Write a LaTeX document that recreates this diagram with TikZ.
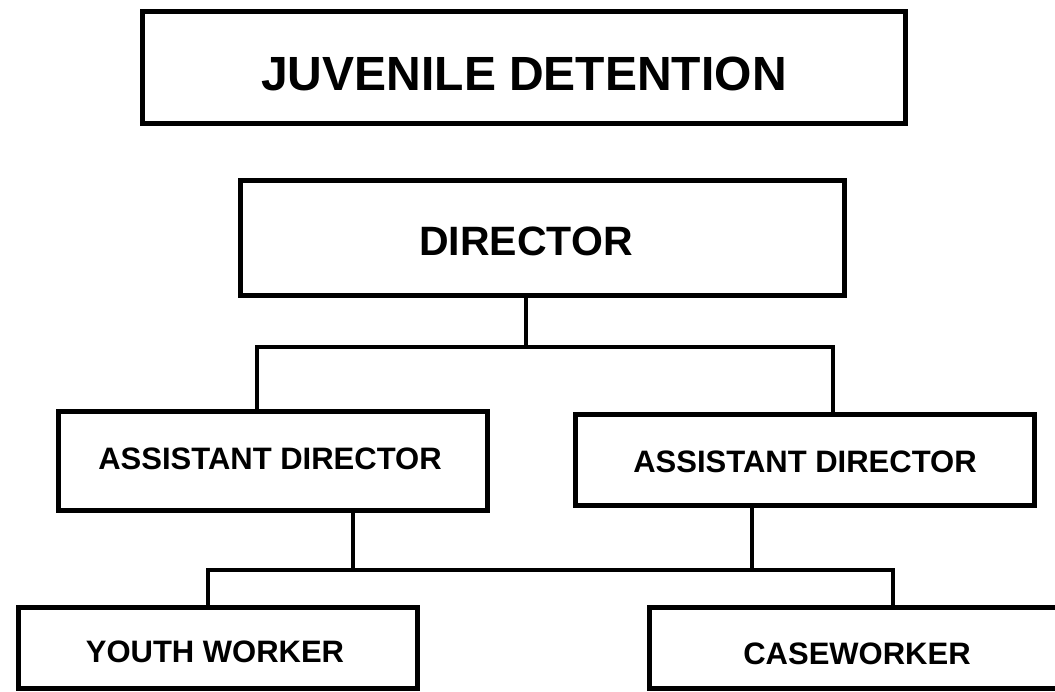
\documentclass[tikz,border=0pt]{standalone}
\usepackage{fontspec}
\setmainfont{Liberation Sans}
\usetikzlibrary{positioning}

\tikzset{
  box/.style={draw,line width=5pt,inner sep=0pt},
  lbl/.style={font=\bfseries\fontsize{#1}{#1}\selectfont,inner sep=0pt},
  link/.style={line width=4.5pt}
}

\begin{document}
\begin{tikzpicture}[x=1pt,y=-1pt]
\useasboundingbox (0,0) rectangle (1055,692);
\clip (0,0) rectangle (1055,692);

% Heading
\node[box,minimum width=763pt,minimum height=112pt] (head) at (524,67.5) {};
\node[lbl=48] (headtxt) at (524,74) {JUVENILE DETENTION};

% Director
\node[box,minimum width=604pt,minimum height=115pt] (dir) at (542.5,238) {};
\node[lbl=41] (dirtxt) at (526,241) {DIRECTOR};

% Assistant directors
\node[box,minimum width=429pt,minimum height=99pt] (adl) at (273,461) {};
\node[lbl=31] (adltxt) at (270,459) {ASSISTANT DIRECTOR};
\node[box,minimum width=459pt,minimum height=91pt] (adr) at (805,460) {};
\node[lbl=31] (adrtxt) at (805,462) {ASSISTANT DIRECTOR};

% Workers
\node[box,minimum width=399pt,minimum height=81pt] (yw) at (218,648) {};
\node[lbl=31] (ywtxt) at (215,652) {YOUTH WORKER};
\node[box,minimum width=415pt,minimum height=81pt] (cw) at (857,648) {};
\node[lbl=31] (cwtxt) at (857,654) {CASEWORKER};

% Junctions
\coordinate (bar1l) at (257,347);
\coordinate (bar1r) at (833,347);
\coordinate (bar2l) at (208,570);
\coordinate (bar2r) at (893,570);
\coordinate (dropl) at (353,570);
\coordinate (dropr) at (752,570);

% Director to assistant directors
\draw[link] (dirtxt |- dir.south) -- (dirtxt |- bar1l);
\draw[link] (adl.north -| bar1l) -- (bar1l) -- (bar1r) -- (adr.north -| bar1r);

% Assistant directors to workers
\draw[link] (dropl |- adl.south) -- (dropl);
\draw[link] (dropr |- adr.south) -- (dropr);
\draw[link] (yw.north -| bar2l) -- (bar2l) -- (bar2r) -- (cw.north -| bar2r);
\end{tikzpicture}
\end{document}
